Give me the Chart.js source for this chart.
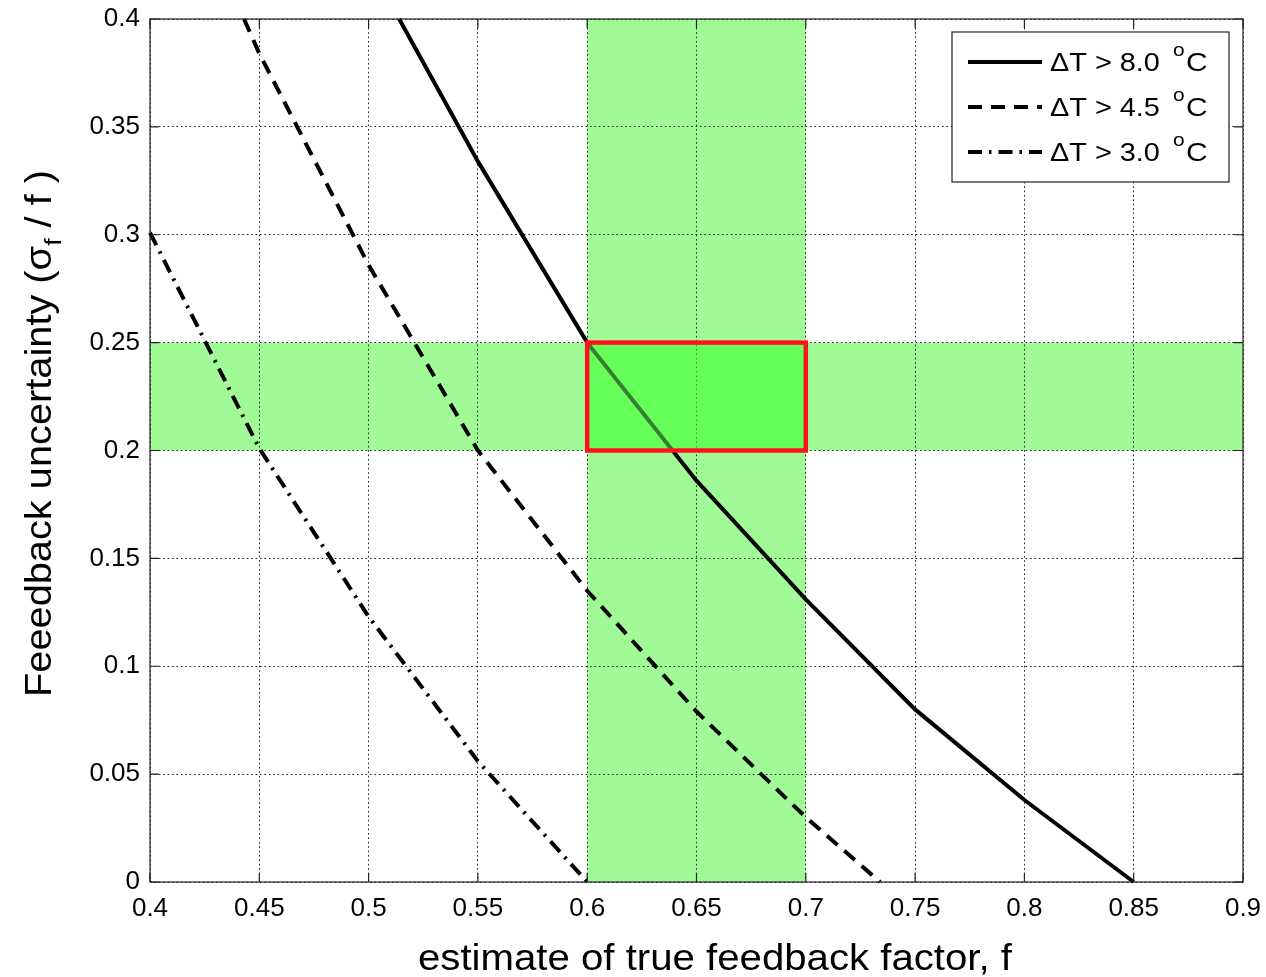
<!DOCTYPE html>
<html>
<head>
<meta charset="utf-8">
<script src="https://cdn.jsdelivr.net/npm/chart.js@4/dist/chart.umd.min.js"></script>
<style>
  html, body { margin: 0; padding: 0; background: #fff; }
  canvas { display: block; }
</style>
</head>
<body>
<canvas id="chart" width="1266" height="977"></canvas>
<script>
// curve values (x = feedback factor f, y = sigma_f / f)
const fSolid = [0.514, 0.55, 0.6, 0.65, 0.7, 0.75, 0.8, 0.85];
const sSolid = [0.4, 0.334, 0.25, 0.186, 0.131, 0.080, 0.038, 0];
const fDash = [0.443, 0.45, 0.5, 0.55, 0.6, 0.65, 0.7, 0.734];
const sDash = [0.4, 0.384, 0.286, 0.2, 0.135, 0.079, 0.030, 0];
const fDashDot = [0.4, 0.45, 0.5, 0.55, 0.6];
const sDashDot = [0.301, 0.201, 0.123, 0.056, 0];

const seriesLabels = ["\u0394T > 8.0", "\u0394T > 4.5", "\u0394T > 3.0"];
const bandF = [0.6, 0.7];     // vertical shaded band
const bandS = [0.2, 0.25];    // horizontal shaded band
const xRange = [0.4, 0.9];
const yRange = [0, 0.4];

const dashes = [[], [14, 9], [14, 7, 2.5, 7]];
const FONT = "'Liberation Sans', Arial, sans-serif";
const OVERLAP = "102,255,90";

function pts(xs, ys) { return xs.map((x, i) => ({ x: x, y: ys[i] })); }
function fmt(v) { return String(+v.toFixed(2)); }

// text drawn a little wider than the font, like the original figure
function wideText(ctx, text, x, y, sx) {
  ctx.save();
  ctx.translate(x, y);
  ctx.scale(sx, 1);
  ctx.fillText(text, 0, 0);
  ctx.restore();
  return ctx.measureText(text).width * sx;
}

function bandPixels(chart) {
  const { x, y } = chart.scales;
  return {
    x0: x.getPixelForValue(bandF[0]), x1: x.getPixelForValue(bandF[1]),
    y0: y.getPixelForValue(bandS[1]), y1: y.getPixelForValue(bandS[0])
  };
}

const decor = {
  id: "decor",
  beforeDraw(chart) {
    const { ctx, chartArea: a } = chart;
    const b = bandPixels(chart);
    ctx.save();
    ctx.fillStyle = "#fff";
    ctx.fillRect(0, 0, chart.width, chart.height);
    ctx.fillStyle = "#a0fb96";
    ctx.fillRect(b.x0, a.top, b.x1 - b.x0, a.bottom - a.top);
    ctx.fillRect(a.left, b.y0, a.right - a.left, b.y1 - b.y0);
    ctx.fillStyle = "rgb(" + OVERLAP + ")";
    ctx.fillRect(b.x0, b.y0, b.x1 - b.x0, b.y1 - b.y0);
    ctx.restore();
  },
  afterDatasetsDraw(chart) {
    const { ctx, chartArea: a, scales: { x, y } } = chart;
    const b = bandPixels(chart);
    ctx.save();
    // overlap region: translucent green over the curve, red outline
    ctx.fillStyle = "rgba(" + OVERLAP + ",0.5)";
    ctx.fillRect(b.x0, b.y0, b.x1 - b.x0, b.y1 - b.y0);
    ctx.strokeStyle = "rgb(255,18,30)";
    ctx.lineWidth = 4.5;
    ctx.strokeRect(b.x0, b.y0, b.x1 - b.x0, b.y1 - b.y0);

    // axes box with inward ticks
    ctx.strokeStyle = "#222";
    ctx.lineWidth = 1.2;
    ctx.strokeRect(a.left, a.top, a.right - a.left, a.bottom - a.top);
    const tl = 9;
    ctx.beginPath();
    x.ticks.forEach(t => {
      const px = x.getPixelForValue(t.value);
      ctx.moveTo(px, a.bottom); ctx.lineTo(px, a.bottom - tl);
      ctx.moveTo(px, a.top); ctx.lineTo(px, a.top + tl);
    });
    y.ticks.forEach(t => {
      const py = y.getPixelForValue(t.value);
      ctx.moveTo(a.left, py); ctx.lineTo(a.left + tl, py);
      ctx.moveTo(a.right, py); ctx.lineTo(a.right - tl, py);
    });
    ctx.stroke();

    // legend
    const lx = 952, ly = 32, lw = 277, lh = 150;
    ctx.fillStyle = "#fff";
    ctx.fillRect(lx, ly, lw, lh);
    ctx.strokeStyle = "#222";
    ctx.lineWidth = 1.2;
    ctx.strokeRect(lx, ly, lw, lh);
    chart.data.datasets.forEach((ds, i) => {
      const ry = 62 + i * 45;
      ctx.strokeStyle = "#000";
      ctx.lineWidth = 4;
      ctx.setLineDash(ds.borderDash);
      ctx.beginPath();
      ctx.moveTo(968, ry); ctx.lineTo(1042, ry);
      ctx.stroke();
      ctx.setLineDash([]);
      ctx.fillStyle = "#000";
      ctx.textBaseline = "alphabetic";
      ctx.textAlign = "left";
      ctx.font = "26px " + FONT;
      wideText(ctx, ds.label, 1050, ry + 9, 1.11);
      ctx.font = "19px " + FONT;
      wideText(ctx, "o", 1173, ry - 6, 1.1);
      ctx.font = "26px " + FONT;
      wideText(ctx, "C", 1186, ry + 9, 1.15);
    });

    // axis titles
    ctx.fillStyle = "#000";
    ctx.textAlign = "left";
    ctx.font = "36px " + FONT;
    const xt = "estimate of true feedback factor, f";
    const xw = ctx.measureText(xt).width;
    const xs = 594 / xw;
    wideText(ctx, xt, 715 - 297, 970, xs);

    ctx.save();
    ctx.translate(51, 433.5);
    ctx.rotate(-Math.PI / 2);
    const big = "36px " + FONT, small = "24px " + FONT;
    const parts = [["Feeedback uncertainty (\u03c3", big, 0], ["f", small, 10], [" / f )", big, 0]];
    let total = 0;
    parts.forEach(p => { ctx.font = p[1]; total += ctx.measureText(p[0]).width; });
    const ys = 527 / total;
    let cx = -527 / 2;
    parts.forEach(p => {
      ctx.font = p[1];
      cx += wideText(ctx, p[0], cx, p[2], ys);
    });
    ctx.restore();
    ctx.restore();
  }
};

new Chart(document.getElementById("chart"), {
  type: "line",
  data: {
    datasets: [
      { label: seriesLabels[0], data: pts(fSolid, sSolid), borderDash: dashes[0] },
      { label: seriesLabels[1], data: pts(fDash, sDash), borderDash: dashes[1] },
      { label: seriesLabels[2], data: pts(fDashDot, sDashDot), borderDash: dashes[2] }
    ].map(d => Object.assign(d, {
      borderColor: "#000", borderWidth: 4, pointRadius: 0, tension: 0,
      fill: false, borderCapStyle: "butt", clip: 2
    }))
  },
  options: {
    responsive: false,
    animation: false,
    layout: { padding: { left: 0, right: 23, top: 19, bottom: 0 } },
    plugins: { legend: { display: false }, tooltip: { enabled: false } },
    scales: {
      x: {
        type: "linear", min: xRange[0], max: xRange[1],
        afterFit: s => { s.height = 95; s.paddingLeft = 0; s.paddingRight = 0; },
        ticks: { stepSize: 0.05, callback: fmt, color: "#000", padding: 11, maxRotation: 0,
                 font: { family: FONT, size: 26 } },
        grid: { color: "#222", lineWidth: 1, drawTicks: false },
        border: { display: false, dash: [1.6, 2.8] }
      },
      y: {
        type: "linear", min: yRange[0], max: yRange[1],
        afterFit: s => { s.width = 150; s.paddingTop = 0; s.paddingBottom = 0; },
        ticks: { stepSize: 0.05, callback: fmt, color: "#000", padding: 10,
                 font: { family: FONT, size: 26 } },
        grid: { color: "#222", lineWidth: 1, drawTicks: false },
        border: { display: false, dash: [1.6, 2.8] }
      }
    }
  },
  plugins: [decor]
});
</script>
</body>
</html>
